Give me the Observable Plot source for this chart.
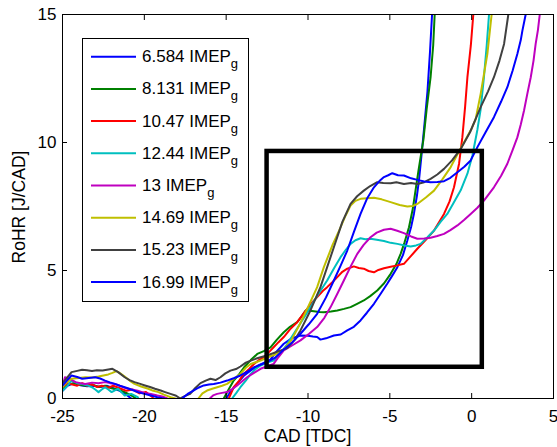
<!DOCTYPE html>
<html><head><meta charset="utf-8">
<script src="https://cdn.jsdelivr.net/npm/d3@7"></script>
<script src="https://cdn.jsdelivr.net/npm/@observablehq/plot@0.6"></script>
<style>
body{margin:0;background:#fff;}
#wrap{position:relative;width:557px;height:447px;font-family:"Liberation Sans",Arial,sans-serif;}
#legend{position:absolute;left:82px;top:38px;}
</style></head><body><div id="wrap"></div>
<script>
const loads = ["6.584","8.131","10.47","12.44","13","14.69","15.23","16.99"];
const colors = ["#0000ff","#008000","#ff0000","#00bfbf","#bf00bf","#bfbf00","#404040","#0000ff"];
const xTicks = [-25,-20,-15,-10,-5,0,5];
const yTicks = [0,5,10,15];
const boxCad = [-12.5, 0.65];
const boxRohr = [1.22, 9.65];

const s6584 = [[-25,0.3],[-24.7,0.5],[-24.3,0.6],[-23.9,0.52],[-23.5,0.48],[-23.1,0.5],[-22.7,0.45],[-22.3,0.5],[-21.9,0.4],[-21.5,0.3],[-21.1,0.15],[-20.8,0.0],[-20.3,-0.3],[-15.3,-0.3],[-15.0,0.0],[-14.7,0.3],[-14.3,0.6],[-13.9,0.9],[-13.5,1.1],[-13.0,1.3],[-12.6,1.42],[-12.3,1.52],[-11.9,1.85],[-11.48,2.14],[-11.0,2.35],[-10.46,2.46],[-10.0,2.45],[-9.7,2.42],[-9.44,2.4],[-9.24,2.3],[-8.9,2.35],[-8.42,2.46],[-8.0,2.5],[-7.6,2.66],[-7.2,2.8],[-6.79,3.05],[-6.4,3.35],[-5.97,3.7],[-5.55,4.1],[-5.16,4.48],[-4.85,4.8],[-4.54,5.13],[-4.2,5.6],[-3.93,6.17],[-3.7,6.7],[-3.53,7.21],[-3.35,7.9],[-3.22,8.52],[-3.05,9.6],[-2.9,10.6],[-2.7,12.0],[-2.55,13.5],[-2.42,15],[-2.35,16]];
const s8131 = [[-25,0.35],[-24.7,0.55],[-24.3,0.6],[-24.0,0.55],[-23.6,0.5],[-23.2,0.55],[-22.8,0.45],[-22.4,0.5],[-22.0,0.4],[-21.6,0.35],[-21.2,0.25],[-20.8,0.12],[-20.5,0.0],[-20.0,-0.3],[-15.5,-0.3],[-15.15,0],[-14.85,0.35],[-14.54,0.7],[-14.2,0.95],[-13.9,1.22],[-13.5,1.5],[-13.1,1.74],[-12.7,1.85],[-12.29,2.0],[-11.9,2.3],[-11.48,2.59],[-11.1,2.8],[-10.66,2.98],[-10.4,3.2],[-10.15,3.44],[-9.9,3.43],[-9.64,3.41],[-9.3,3.38],[-9.03,3.37],[-8.6,3.4],[-8.21,3.44],[-7.8,3.5],[-7.4,3.57],[-7.0,3.7],[-6.59,3.83],[-6.2,4.0],[-5.77,4.22],[-5.35,4.5],[-4.95,4.87],[-4.6,5.25],[-4.34,5.65],[-4.1,6.1],[-3.83,6.69],[-3.6,7.4],[-3.43,8.13],[-3.25,8.9],[-3.12,9.43],[-2.95,10.1],[-2.75,11.3],[-2.51,12.55],[-2.35,13.8],[-2.26,15],[-2.2,16]];
const s1047 = [[-25,0.45],[-24.7,0.6],[-24.4,0.55],[-24.1,0.5],[-23.8,0.6],[-23.5,0.5],[-23.2,0.55],[-22.9,0.45],[-22.6,0.5],[-22.2,0.42],[-21.9,0.5],[-21.5,0.4],[-21.1,0.3],[-20.7,0.35],[-20.3,0.2],[-19.9,0.25],[-19.5,0.05],[-19.2,-0.3],[-15.0,-0.3],[-14.84,0],[-14.54,0.44],[-14.2,0.7],[-13.93,0.96],[-13.6,1.15],[-13.3,1.35],[-13.0,1.5],[-12.7,1.61],[-12.4,1.8],[-12.1,2.0],[-11.8,2.2],[-11.48,2.4],[-11.1,2.7],[-10.66,2.98],[-10.35,3.25],[-10.05,3.5],[-9.75,3.75],[-9.44,3.96],[-9.1,4.2],[-8.83,4.35],[-8.5,4.55],[-8.21,4.74],[-7.9,4.95],[-7.6,5.07],[-7.2,5.16],[-6.9,5.1],[-6.59,5.07],[-6.3,4.98],[-5.97,4.93],[-5.7,5.02],[-5.36,5.09],[-4.95,5.15],[-4.54,5.2],[-4.14,5.26],[-3.8,5.5],[-3.32,5.85],[-2.8,6.2],[-2.3,6.56],[-1.69,7.21],[-1.35,7.7],[-1.08,8.25],[-0.77,9.17],[-0.57,10.2],[-0.4,11.4],[-0.26,12.55],[-0.05,13.8],[0.1,15],[0.15,16]];
const s1244 = [[-25,0.3],[-24.7,0.5],[-24.45,0.7],[-24.1,0.6],[-23.8,0.57],[-23.5,0.52],[-23.2,0.44],[-23.0,0.35],[-22.8,0.25],[-22.6,0.35],[-22.4,0.44],[-22.2,0.35],[-22.0,0.25],[-21.8,0.32],[-21.6,0.38],[-21.4,0.25],[-21.2,0.12],[-20.8,0.18],[-20.4,0.05],[-20.1,-0.3],[-14.8,-0.3],[-14.64,0],[-14.4,0.2],[-14.13,0.44],[-13.8,0.7],[-13.5,0.96],[-13.2,1.15],[-12.9,1.29],[-12.5,1.4],[-12.1,1.48],[-11.7,1.75],[-11.3,2.1],[-10.9,2.5],[-10.5,2.9],[-10.2,3.2],[-9.85,3.57],[-9.4,4.05],[-8.83,4.61],[-8.4,5.1],[-8.01,5.52],[-7.7,5.8],[-7.4,6.04],[-7.1,6.18],[-6.79,6.26],[-6.5,6.22],[-6.18,6.24],[-5.8,6.2],[-5.36,6.15],[-4.95,6.08],[-4.54,6.04],[-4.1,5.98],[-3.73,5.94],[-3.4,5.98],[-3.12,6.04],[-2.7,6.3],[-2.3,6.56],[-1.9,6.9],[-1.49,7.21],[-1.1,7.65],[-0.67,8.13],[-0.26,8.78],[0.05,9.5],[0.35,10.5],[0.55,11.3],[0.75,12.55],[0.92,13.8],[1.06,15],[1.1,16]];
const s13 = [[-25,0.5],[-24.85,0.83],[-24.5,0.75],[-24.2,0.64],[-23.9,0.6],[-23.6,0.57],[-23.2,0.62],[-22.8,0.6],[-22.4,0.64],[-22.1,0.6],[-21.8,0.57],[-21.5,0.5],[-21.2,0.42],[-20.8,0.35],[-20.4,0.3],[-20.0,0.22],[-19.6,0.18],[-19.2,0.12],[-18.9,0.08],[-18.6,0.0],[-18.2,-0.3],[-16.2,-0.3],[-16.0,0],[-15.8,0.12],[-15.55,0.18],[-15.25,0.22],[-14.94,0.25],[-14.6,0.38],[-14.33,0.51],[-14.0,0.68],[-13.72,0.83],[-13.3,1.0],[-12.9,1.16],[-12.5,1.26],[-12.1,1.35],[-11.8,1.62],[-11.48,1.88],[-10.95,2.08],[-10.46,2.27],[-9.95,2.52],[-9.44,2.79],[-9.0,3.15],[-8.62,3.57],[-8.2,4.1],[-7.81,4.61],[-7.4,5.15],[-6.99,5.65],[-6.6,6.0],[-6.18,6.3],[-5.8,6.48],[-5.36,6.59],[-4.95,6.63],[-4.55,6.55],[-4.14,6.46],[-3.7,6.33],[-3.32,6.24],[-2.9,6.25],[-2.51,6.28],[-2.1,6.35],[-1.69,6.43],[-1.3,6.58],[-0.87,6.76],[-0.45,6.98],[-0.06,7.21],[0.35,7.45],[0.75,7.73],[1.36,8.25],[1.8,8.7],[2.18,9.17],[2.5,9.7],[2.79,10.2],[3.0,10.7],[3.2,11.25],[3.4,11.9],[3.61,12.55],[3.78,13.2],[3.91,13.85],[4.05,14.4],[4.16,15],[4.2,16]];
const s1469 = [[-25,0.45],[-24.8,0.6],[-24.45,0.77],[-24.0,0.8],[-23.6,0.83],[-23.2,0.82],[-22.8,0.86],[-22.5,0.9],[-22.2,0.94],[-21.95,1.0],[-21.7,1.07],[-21.45,0.97],[-21.2,0.86],[-20.9,0.7],[-20.6,0.57],[-20.2,0.47],[-19.76,0.38],[-19.45,0.3],[-19.14,0.25],[-18.8,0.15],[-18.4,0.05],[-18.1,0.0],[-17.6,-0.3],[-16.9,-0.3],[-16.7,0],[-16.45,0.2],[-16.17,0.31],[-15.85,0.38],[-15.55,0.44],[-15.25,0.5],[-14.94,0.57],[-14.5,0.78],[-14.13,0.96],[-13.8,1.2],[-13.5,1.35],[-12.9,1.48],[-12.5,1.6],[-12.0,1.72],[-11.5,1.9],[-11.0,2.3],[-10.5,2.9],[-10.05,3.5],[-9.44,4.35],[-9.03,5.13],[-8.5,6.0],[-8.1,6.56],[-7.7,7.15],[-7.4,7.54],[-7.1,7.72],[-6.79,7.8],[-6.4,7.82],[-5.97,7.84],[-5.5,7.78],[-4.95,7.67],[-4.4,7.56],[-3.93,7.5],[-3.6,7.52],[-3.32,7.6],[-2.8,7.85],[-2.3,8.12],[-1.8,8.55],[-1.28,9.04],[-0.9,9.5],[-0.47,10.0],[0.0,10.55],[0.24,10.9],[0.55,11.9],[0.96,13.46],[1.22,15],[1.3,16]];
const s1523 = [[-25,0.6],[-24.8,0.75],[-24.45,1.03],[-24.1,1.08],[-23.8,1.12],[-23.5,1.1],[-23.2,1.07],[-22.9,1.1],[-22.55,1.09],[-22.2,1.13],[-21.95,1.16],[-21.6,1.03],[-21.2,0.83],[-20.9,0.72],[-20.6,0.64],[-20.3,0.58],[-19.96,0.51],[-19.65,0.45],[-19.35,0.38],[-19.0,0.31],[-18.73,0.25],[-18.4,0.18],[-18.1,0.12],[-17.8,0.0],[-17.5,0.1],[-17.2,0.18],[-16.9,0.4],[-16.57,0.6],[-16.25,0.7],[-15.96,0.77],[-15.65,0.72],[-15.35,0.83],[-15.05,0.98],[-14.74,1.09],[-14.4,1.15],[-14.13,1.25],[-13.8,1.4],[-13.5,1.48],[-13.2,1.55],[-12.9,1.61],[-12.5,1.68],[-12.0,1.8],[-11.27,1.97],[-10.8,2.3],[-10.46,2.66],[-9.85,3.44],[-9.24,4.35],[-8.42,5.91],[-7.9,6.9],[-7.4,7.6],[-7.0,7.9],[-6.59,8.12],[-6.2,8.3],[-5.77,8.45],[-5.4,8.42],[-4.95,8.41],[-4.6,8.45],[-4.14,8.38],[-3.7,8.42],[-3.32,8.38],[-2.9,8.45],[-2.51,8.58],[-2.1,8.75],[-1.69,8.97],[-1.2,9.3],[-0.67,9.75],[-0.1,10.4],[0.55,11.38],[1.0,12.0],[1.36,12.55],[1.7,13.2],[1.98,13.85],[2.24,15],[2.4,16]];
const s1699 = [[-25,0.5],[-24.8,0.65],[-24.45,0.9],[-24.1,0.84],[-23.8,0.77],[-23.4,0.8],[-23.0,0.83],[-22.7,0.78],[-22.4,0.7],[-22.1,0.63],[-21.8,0.57],[-21.5,0.5],[-21.2,0.44],[-20.8,0.35],[-20.4,0.25],[-20.0,0.18],[-19.6,0.12],[-19.2,0.05],[-18.8,0.0],[-18.2,-0.2],[-17.7,0.0],[-17.3,0.2],[-17.0,0.31],[-16.7,0.42],[-16.37,0.51],[-16.05,0.55],[-15.76,0.57],[-15.35,0.62],[-14.94,0.7],[-14.5,0.8],[-14.13,0.9],[-13.7,1.05],[-13.3,1.22],[-12.9,1.32],[-12.5,1.42],[-12.0,1.6],[-11.5,1.9],[-10.95,2.2],[-10.46,2.53],[-9.95,2.9],[-9.44,3.31],[-8.9,3.95],[-8.42,4.61],[-8.0,5.2],[-7.6,5.78],[-7.2,6.5],[-6.79,7.21],[-6.4,7.8],[-5.97,8.25],[-5.6,8.52],[-5.36,8.65],[-5.1,8.72],[-4.85,8.8],[-4.5,8.72],[-4.14,8.71],[-3.7,8.6],[-3.32,8.54],[-2.9,8.48],[-2.51,8.45],[-2.1,8.46],[-1.69,8.49],[-1.3,8.62],[-0.87,8.84],[-0.45,9.05],[-0.06,9.3],[0.35,9.82],[0.85,10.4],[1.36,10.99],[1.8,11.6],[2.18,12.16],[2.5,12.8],[2.79,13.46],[3.0,14.0],[3.1,14.37],[3.3,15],[3.4,16]];

const seriesPts = [s6584, s8131, s1047, s1244, s13, s1469, s1523, s1699];
const rows = seriesPts.flatMap((pts, i) => pts.map(([cad, rohr]) => ({cad, rohr, load: loads[i]})));

const font = '"Liberation Sans", Arial, sans-serif';
const lineMarks = seriesPts.map((pts, i) =>
  Plot.line(rows.filter(r => r.load === loads[i]), {x: "cad", y: "rohr", stroke: colors[i], strokeWidth: 2, clip: true}));

const plot = Plot.plot({
  width: 557, height: 447,
  marginLeft: 62, marginRight: 4, marginTop: 14, marginBottom: 49,
  x: {domain: [-25, 5]},
  y: {domain: [0, 15]},
  style: {fontFamily: font, fontSize: "17px", color: "black", background: "white"},
  marks: [
    ...lineMarks,
    Plot.rect([{x1: boxCad[0], x2: boxCad[1], y1: boxRohr[0], y2: boxRohr[1]}],
      {x1: "x1", x2: "x2", y1: "y1", y2: "y2", fill: "none", stroke: "black", strokeWidth: 4.5}),
    Plot.frame({stroke: "black", strokeWidth: 1}),
    Plot.axisX(xTicks, {anchor: "bottom", tickSize: 0, tickPadding: 11, tickFormat: d => String(d), label: null}),
    Plot.axisX(xTicks, {anchor: "bottom", tickSize: -5, tickFormat: () => "", label: null}),
    Plot.axisX(xTicks, {anchor: "top", tickSize: -5, tickFormat: () => "", label: null}),
    Plot.axisY(yTicks, {anchor: "left", tickSize: 0, tickPadding: 6, tickFormat: d => String(d), label: null}),
    Plot.axisY(yTicks, {anchor: "left", tickSize: -5, tickFormat: () => "", label: null}),
    Plot.axisY(yTicks, {anchor: "right", tickSize: -5, tickFormat: () => "", label: null})
  ]
});

const wrap = document.getElementById("wrap");
wrap.appendChild(plot);
const svg = d3.select(plot);
svg.append("text").attr("x", (62 + 553) / 2).attr("y", 442)
  .attr("text-anchor", "middle").attr("font-size", 17.5).attr("fill", "black").text("CAD [TDC]");
svg.append("text").attr("transform", "translate(25,207) rotate(-90)")
  .attr("text-anchor", "middle").attr("font-size", 17.5).attr("fill", "black").text("RoHR [J/CAD]");

// legend
const lg = d3.select(wrap).append("svg").attr("id", "legend")
  .attr("width", 168).attr("height", 265).style("font-family", font);
lg.append("rect").attr("x", 0.5).attr("y", 0.5).attr("width", 166).attr("height", 263)
  .attr("fill", "white").attr("stroke", "black");
loads.forEach((ld, i) => {
  const cy = 18.7 + i * 32.2;
  lg.append("line").attr("x1", 9).attr("x2", 54).attr("y1", cy).attr("y2", cy)
    .attr("stroke", colors[i]).attr("stroke-width", 2);
  const t = lg.append("text").attr("x", 60).attr("y", cy + 5.5).attr("font-size", 17).attr("fill", "black");
  t.append("tspan").text(ld + " IMEP");
  t.append("tspan").attr("dy", 6).attr("font-size", 13).text("g");
});
</script></body></html>
